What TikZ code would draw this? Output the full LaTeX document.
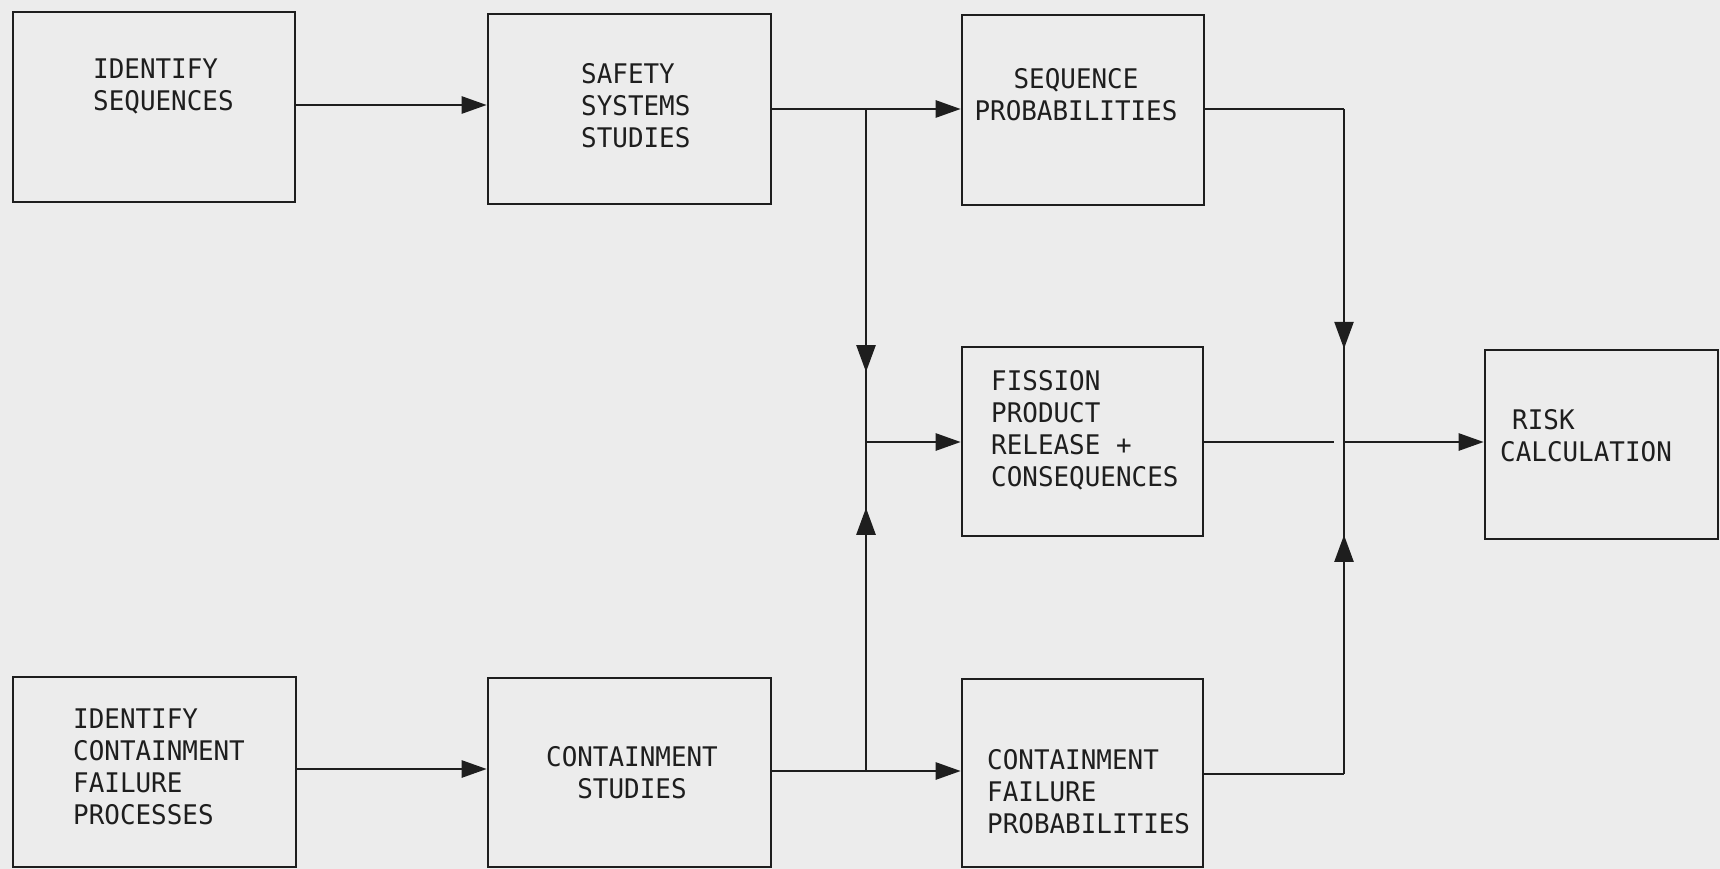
\documentclass[tikz,border=0pt]{standalone}
\usepackage{fontspec}
\setmainfont[FakeStretch=0.96]{DejaVu Sans Mono}
\usetikzlibrary{arrows.meta,decorations.markings}
\definecolor{bg}{RGB}{236,236,236}
\definecolor{ink}{RGB}{30,30,30}
\begin{document}
\begin{tikzpicture}[x=1pt,y=-1pt,
  box/.style={draw=ink, line width=2.6pt, inner sep=0pt},
  txt/.style={font=\fontsize{27}{32}\selectfont, text=ink, inner sep=0pt},
  conn/.style={draw=ink, line width=2.6pt},
  arr/.style={-{Triangle[length=25pt,width=17pt]}},
  midarr/.style={postaction={decorate}, decoration={markings, mark=at position #1 with {\arrow{Triangle[length=27pt,width=19pt]}}}}]
\fill[bg] (0,0) rectangle (1720,869);
\useasboundingbox (0,0) rectangle (1720,869);
% boxes
\node[box, minimum width=282pt, minimum height=190pt] (b1) at (154,107) {};
\node[box, minimum width=283pt, minimum height=190pt] (b2) at (629.5,109) {};
\node[box, minimum width=242pt, minimum height=190pt] (b3) at (1083,110) {};
\node[box, minimum width=241pt, minimum height=189pt] (b4) at (1082.5,441.5) {};
\node[box, minimum width=233pt, minimum height=189pt] (b5) at (1601.5,444.5) {};
\node[box, minimum width=283pt, minimum height=190pt] (b6) at (154.5,772) {};
\node[box, minimum width=283pt, minimum height=189pt] (b7) at (629.5,772.5) {};
\node[box, minimum width=241pt, minimum height=188pt] (b8) at (1082.5,773) {};
% texts
\node[txt, align=left, anchor=north west] (t1) at (93,59) {IDENTIFY\\SEQUENCES};
\node[txt, align=left, anchor=north west] (t2) at (581,63) {SAFETY\\SYSTEMS\\STUDIES};
\node[txt, align=center, anchor=north] (t3) at (1076,68) {SEQUENCE\\PROBABILITIES};
\node[txt, align=left, anchor=north west] (t4) at (991,370) {FISSION\\PRODUCT\\RELEASE +\\CONSEQUENCES};
\node[txt, align=left, anchor=north west] (t5) at (1500,409) {\hspace*{12pt}RISK\\CALCULATION};
\node[txt, align=left, anchor=north west] (t6) at (73,709) {IDENTIFY\\CONTAINMENT\\FAILURE\\PROCESSES};
\node[txt, align=center, anchor=north] (t7) at (632,746) {CONTAINMENT\\STUDIES};
\node[txt, align=left, anchor=north west] (t8) at (987,749) {CONTAINMENT\\FAILURE\\PROBABILITIES};
% junctions
\coordinate (j1) at (866,109);
\coordinate (j2) at (866,442);
\coordinate (j3) at (866,771);
\coordinate (k1) at (1344,109);
\coordinate (k2) at (1344,442);
\coordinate (k3) at (1344,774);
% connectors
\draw[conn, arr] (b1.east |- 0,105) -- (b2.west |- 0,105);
\draw[conn] (b2.east |- j1) -- (j1);
\draw[conn, arr] (j1) -- (b3.west |- j1);
\draw[conn, midarr=0.79] (j1) -- (j2);
\draw[conn, arr] (j2) -- (b4.west |- j2);
\draw[conn, arr] (b6.east |- 0,769) -- (b7.west |- 0,769);
\draw[conn] (b7.east |- j3) -- (j3);
\draw[conn, arr] (j3) -- (b8.west |- j3);
\draw[conn, midarr=0.80] (j3) -- (j2);
\draw[conn] (b3.east |- k1) -- (k1);
\draw[conn, midarr=0.72] (k1) -- (k2);
\draw[conn] (b8.east |- k3) -- (k3);
\draw[conn, midarr=0.72] (k3) -- (k2);
\draw[conn] (b4.east |- k2) -- ([xshift=-10pt]k2);
\draw[conn, arr] (k2) -- (b5.west |- k2);
\end{tikzpicture}
\end{document}
